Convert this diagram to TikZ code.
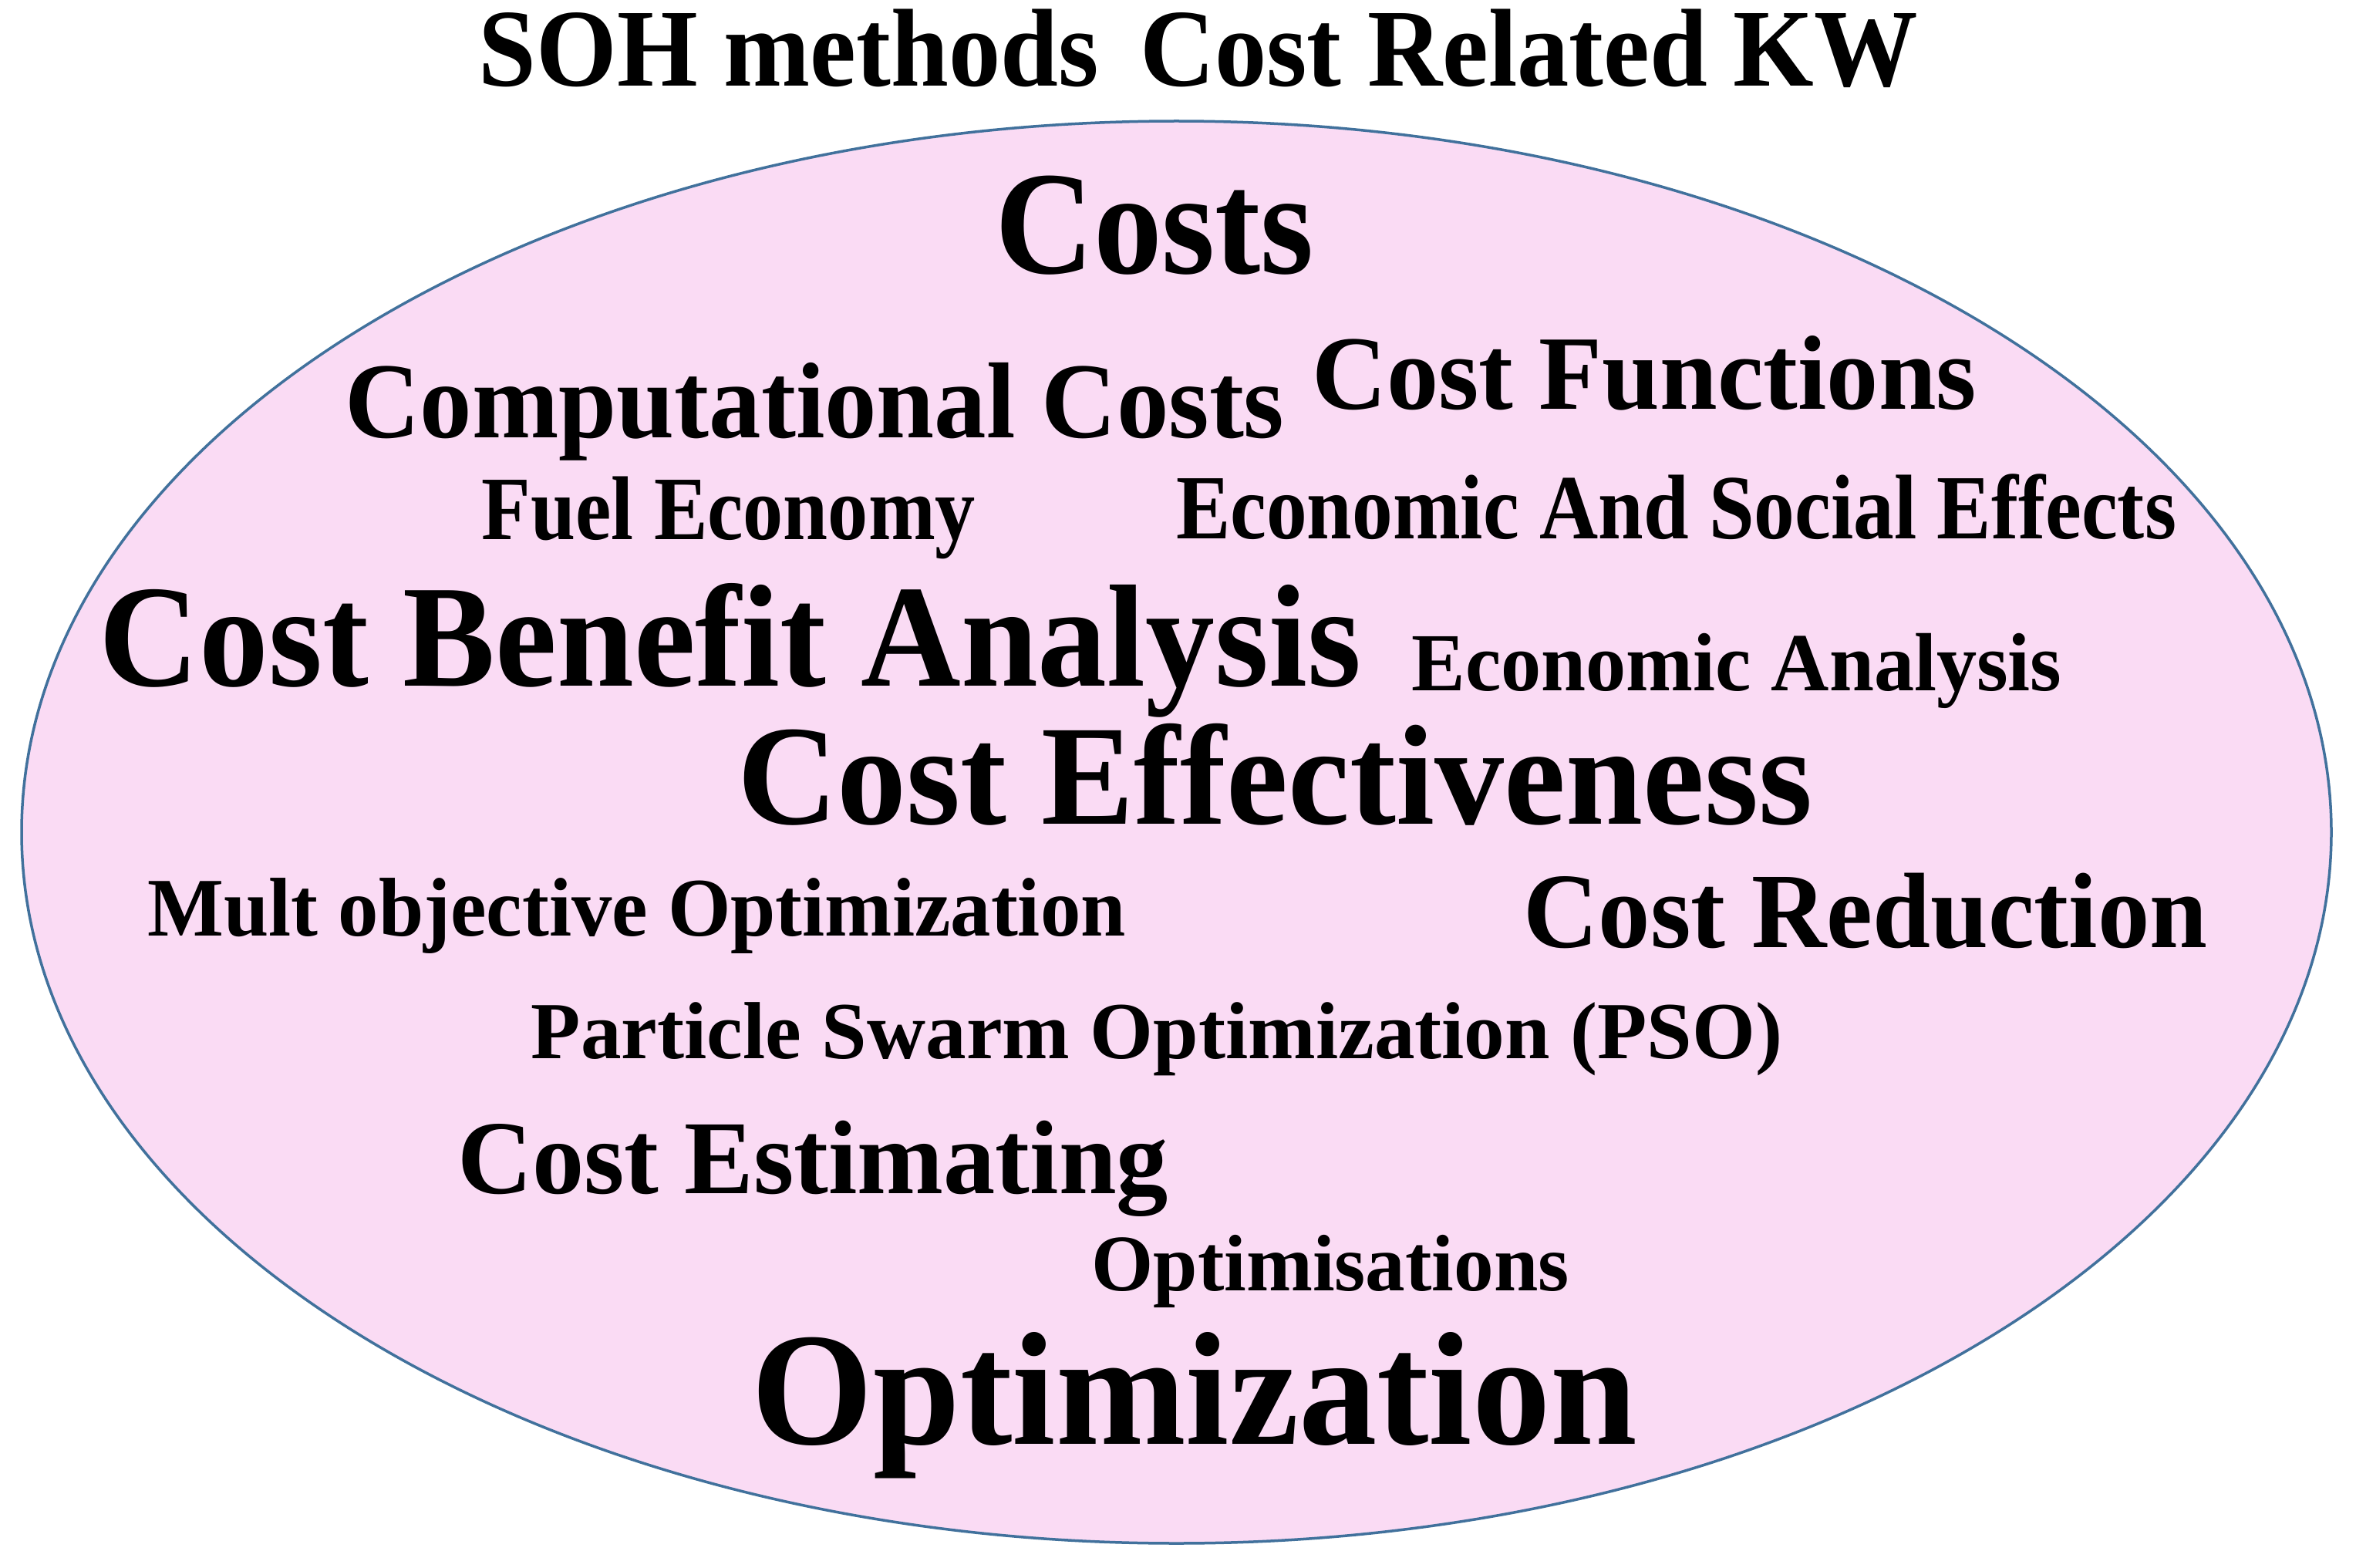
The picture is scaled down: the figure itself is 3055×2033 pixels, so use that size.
\documentclass[tikz,border=0pt]{standalone}
\usepackage{fontspec}
\usepackage{graphicx}
\setmainfont{Liberation Serif}
\definecolor{ellfill}{RGB}{250,219,244}
\definecolor{ellline}{RGB}{65,113,156}
\newcommand\kwtext[3]{\resizebox{#2pt}{\height}{\fontsize{#1pt}{#1pt}\selectfont\bfseries #3}}
\tikzset{kw/.style={inner sep=0pt, outer sep=0pt, anchor=base}}
\begin{document}
\begin{tikzpicture}[x=1pt,y=1pt]
\useasboundingbox (0,0) rectangle (3055,-2033);
\fill[white] (0,0) rectangle (3055,-2033);
\draw[fill=ellfill, draw=ellline, line width=3.5pt] (1525.5,-1079) ellipse [x radius=1497.5, y radius=922];
\node[kw] (title) at (1554,-112) {\kwtext{143.5}{1866}{SOH methods\hspace{0.15em} Cost Related KW}};
\node[kw] (costs) at (1497,-355) {\kwtext{191}{414}{Costs}};
\node[kw] (comp) at (1056.5,-567) {\kwtext{140}{1218}{Computational Costs}};
\node[kw] (cfun) at (2132,-530) {\kwtext{137}{862}{Cost Functions}};
\node[kw] (fuel) at (945,-699) {\kwtext{117.5}{640}{Fuel Economy}};
\node[kw] (econsoc) at (2173.5,-698) {\kwtext{119}{1297}{Economic And Social Effects}};
\node[kw] (cba) at (947,-889) {\kwtext{189}{1636}{Cost Benefit Analysis}};
\node[kw] (econ) at (2252,-895) {\kwtext{107}{843}{Economic Analysis}};
\node[kw] (ceff) at (1653,-1068) {\kwtext{185}{1394}{Cost Effectiveness}};
\node[kw] (mult) at (825.5,-1213) {\kwtext{108}{1268}{Mult objective Optimization}};
\node[kw] (cred) at (2419,-1228) {\kwtext{139}{887}{Cost Reduction}};
\node[kw] (pso) at (1500,-1372) {\kwtext{105}{1622}{Particle Swarm Optimization (PSO)}};
\node[kw] (cest) at (1054,-1547) {\kwtext{136}{922}{Cost Estimating}};
\node[kw] (optims) at (1725,-1673) {\kwtext{104}{619}{Optimisations}};
\node[kw] (optim) at (1549,-1872) {\kwtext{209}{1148}{Optimization}};
\end{tikzpicture}
\end{document}
